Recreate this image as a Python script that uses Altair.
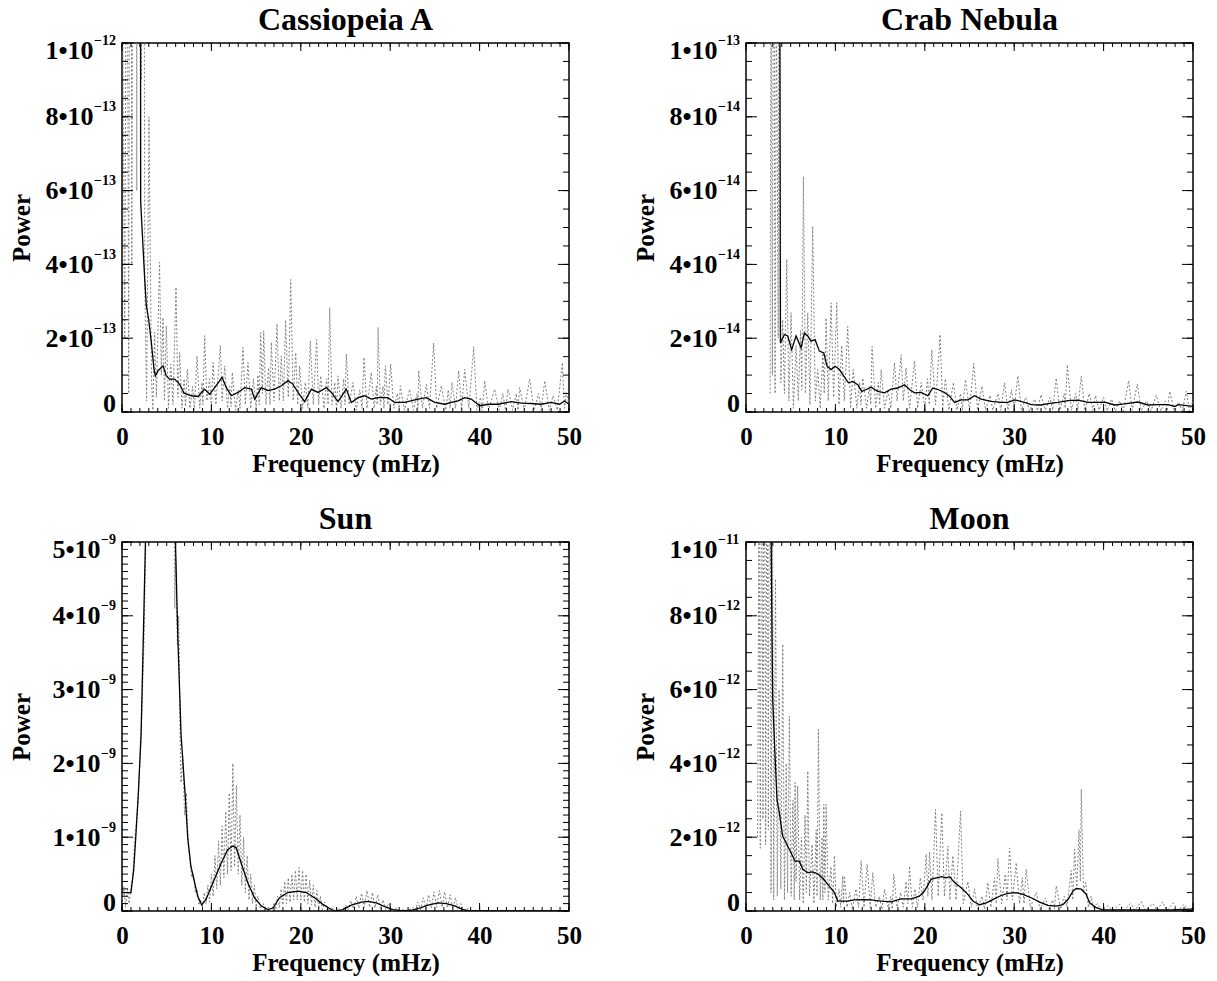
import altair as alt
import pandas as pd

FONT = "Liberation Serif"
W, H = 447, 369
X_MAJOR = [0, 10, 20, 30, 40, 50]
X_MINOR = list(range(0, 51))

# ---------------- data (frequency mHz, power in panel units) ----------------
# Cassiopeia A, units of 1e-13
cas_raw = [(0.0, 14), (0.3, 2.0), (0.55, 18), (0.75, 0.5), (0.93, 30), (1.1, 4), (1.3, 25), (1.49, 30),
           (1.65, 6), (1.8, 22), (1.98, 40), (2.15, 9), (2.35, 30), (2.55, 3.5), (2.75, 0.3), (3.02, 8.0),
           (3.3, 0.9), (3.45, 0.05), (3.65, 2.16), (3.85, 0.4), (4.2, 4.06), (4.4, 1.0), (4.59, 2.56),
           (4.75, 0.3), (4.96, 2.34), (5.2, 0.1), (5.45, 1.3), (5.7, 0.2), (6.04, 3.38), (6.25, 0.4),
           (6.45, 1.61), (6.7, 0.1), (6.95, 0.9), (7.1, 0.15), (7.31, 1.16), (7.6, 0.1), (7.9, 0.7),
           (8.1, 0.05), (8.39, 1.52), (8.7, 0.1), (8.95, 0.8), (9.05, 0.2), (9.24, 2.07), (9.5, 0.3),
           (9.8, 0.9), (10.0, 0.1), (10.18, 1.34), (10.5, 0.2), (11.0, 1.80), (11.2, 0.3), (11.49, 1.25),
           (11.8, 0.1), (12.05, 0.7), (12.2, 0.15), (12.34, 1.07), (12.7, 0.05), (13.0, 0.6), (13.2, 0.1),
           (13.53, 1.75), (13.8, 0.2), (14.09, 1.34), (14.4, 0.1), (14.7, 0.9), (15.0, 0.1), (15.2, 1.0),
           (15.35, 0.2), (15.51, 2.15), (15.7, 0.5), (15.85, 2.20), (16.1, 0.2), (16.4, 1.2), (16.55, 0.2),
           (16.7, 1.89), (17.0, 0.3), (17.34, 2.39), (17.6, 0.3), (17.82, 1.52), (18.05, 0.3), (18.3, 2.49),
           (18.6, 0.4), (18.87, 3.59), (19.15, 0.3), (19.43, 1.61), (19.65, 0.2), (19.87, 1.25), (20.2, 0.1),
           (20.5, 0.8), (20.8, 0.1), (21.06, 1.93), (21.4, 0.2), (21.77, 1.96), (22.0, 0.2), (22.22, 0.98),
           (22.6, 0.1), (22.9, 0.9), (23.05, 0.2), (23.23, 2.83), (23.5, 0.2), (23.8, 0.8), (24.0, 0.05),
           (24.16, 0.98), (24.5, 0.1), (24.8, 0.9), (24.95, 0.2), (25.09, 1.57), (25.4, 0.2), (25.84, 0.80),
           (26.2, 0.05), (26.6, 0.6), (26.85, 0.1), (27.07, 1.48), (27.4, 0.1), (27.89, 1.07), (28.2, 0.1),
           (28.45, 0.7), (28.55, 0.2), (28.64, 2.29), (28.9, 0.2), (29.2, 0.7), (29.3, 0.1), (29.46, 1.25),
           (29.75, 0.2), (30.05, 1.30), (30.4, 0.1), (30.8, 0.5), (31.0, 0.1), (31.13, 0.71), (31.6, 0.05),
           (32.18, 0.62), (32.6, 0.05), (33.0, 0.5), (33.1, 0.1), (33.19, 1.12), (33.6, 0.1), (34.04, 0.75),
           (34.4, 0.1), (34.86, 1.87), (35.2, 0.1), (35.72, 0.71), (36.2, 0.05), (36.5, 0.6), (36.7, 0.1),
           (36.91, 0.80), (37.3, 0.1), (37.66, 1.12), (38.0, 0.1), (38.33, 1.16), (38.8, 0.1), (39.34, 1.77),
           (39.7, 0.05), (40.1, 0.4), (40.3, 0.02), (40.57, 0.85), (41.0, 0.05), (41.69, 0.62), (42.2, 0.05),
           (42.6, 0.5), (42.9, 0.05), (43.18, 0.62), (43.7, 0.05), (44.1, 0.5), (44.3, 0.05), (44.48, 0.66),
           (45.0, 0.05), (45.6, 0.89), (46.1, 0.05), (46.6, 0.5), (46.9, 0.05), (47.28, 0.85), (47.8, 0.05),
           (48.21, 0.44), (48.7, 0.05), (49.25, 1.34), (49.5, 0.1), (49.7, 0.53), (50.0, 0.2)]
cas_smooth = [(1.98, 40), (2.09, 5.69), (2.54, 3.60), (2.72, 2.88), (2.98, 2.52), (3.28, 1.89), (3.58, 1.16),
              (3.73, 0.98), (4.03, 1.12), (4.59, 1.25), (4.96, 0.98), (5.33, 0.89), (5.89, 0.89), (6.45, 0.75),
              (6.94, 0.51), (7.75, 0.44), (8.50, 0.42), (9.24, 0.62), (9.80, 0.48), (10.37, 0.66), (11.19, 0.94),
              (11.67, 0.66), (12.23, 0.44), (12.98, 0.53), (13.72, 0.66), (14.47, 0.62), (14.84, 0.35),
              (15.58, 0.66), (16.33, 0.58), (17.08, 0.62), (17.82, 0.71), (18.57, 0.85), (19.13, 0.75),
              (19.69, 0.53), (20.43, 0.28), (21.18, 0.62), (21.92, 0.53), (22.86, 0.66), (23.42, 0.53),
              (24.16, 0.28), (25.09, 0.62), (25.65, 0.26), (26.40, 0.39), (27.14, 0.44), (27.89, 0.35),
              (28.64, 0.39), (29.75, 0.39), (30.50, 0.26), (31.62, 0.26), (33.11, 0.35), (34.04, 0.39),
              (34.98, 0.26), (36.10, 0.21), (36.84, 0.26), (37.58, 0.30), (38.33, 0.39), (39.07, 0.35),
              (40.00, 0.17), (40.94, 0.21), (42.06, 0.21), (43.55, 0.28), (44.67, 0.24), (45.78, 0.23),
              (46.9, 0.21), (48.0, 0.26), (48.96, 0.21), (49.5, 0.30), (50.0, 0.21)]

# Crab Nebula, units of 1e-14
crab_raw = [(2.7, 0.5), (2.8, 14), (2.95, 1.0), (3.1, 18), (3.25, 0.5), (3.4, 12), (3.6, 2), (3.73, 20),
            (3.9, 0.8), (4.1, 2.5), (4.3, 0.5), (4.56, 4.14), (4.8, 0.3), (5.04, 2.69), (5.3, 0.1), (5.6, 1.8),
            (5.85, 0.3), (6.1, 2.2), (6.25, 0.6), (6.42, 6.38), (6.65, 0.5), (6.91, 2.69), (7.15, 0.2),
            (7.46, 5.04), (7.75, 0.3), (8.02, 1.15), (8.3, 0.1), (8.6, 1.6), (8.75, 0.5), (8.96, 2.55),
            (9.2, 0.3), (9.52, 2.96), (9.8, 0.4), (10.15, 2.96), (10.4, 0.2), (10.7, 1.8), (11.0, 0.3),
            (11.38, 2.32), (11.7, 0.1), (12.0, 1.15), (12.4, 0.1), (12.7, 0.8), (12.85, 0.2), (13.06, 0.92),
            (13.5, 0.1), (13.8, 0.7), (13.95, 0.2), (14.10, 1.78), (14.5, 0.1), (14.8, 0.8), (14.95, 0.2),
            (15.11, 1.15), (15.5, 0.1), (15.9, 0.6), (16.2, 0.1), (16.61, 1.33), (16.9, 0.3), (17.35, 1.55),
            (17.6, 0.3), (17.9, 1.2), (18.3, 0.1), (18.85, 1.38), (19.2, 0.1), (19.6, 0.8), (20.0, 0.1),
            (20.3, 0.9), (20.5, 0.2), (20.78, 1.69), (21.2, 0.2), (21.71, 2.1), (22.0, 0.1), (22.3, 0.9),
            (22.7, 0.05), (23.2, 0.8), (23.6, 0.05), (24.0, 0.5), (24.2, 0.05), (24.55, 0.88), (25.0, 0.05),
            (25.48, 1.31), (25.9, 0.05), (26.4, 0.7), (26.8, 0.05), (27.3, 0.45), (27.6, 0.05), (28.2, 0.5),
            (28.5, 0.05), (28.92, 0.79), (29.3, 0.05), (29.7, 0.6), (30.0, 0.1), (30.41, 0.98), (30.8, 0.05),
            (31.3, 0.4), (31.7, 0.03), (32.3, 0.35), (32.6, 0.03), (33.0, 0.47), (33.5, 0.05), (34.0, 0.4),
            (34.3, 0.05), (34.7, 0.92), (35.1, 0.05), (35.6, 0.5), (35.7, 0.1), (35.94, 1.28), (36.4, 0.05),
            (36.9, 0.5), (37.1, 0.05), (37.5, 0.97), (37.9, 0.05), (38.4, 0.5), (38.8, 0.05), (39.1, 0.45),
            (39.5, 0.05), (40.0, 0.4), (40.4, 0.03), (40.9, 0.35), (41.3, 0.03), (41.8, 0.3), (42.2, 0.03),
            (42.8, 0.85), (43.2, 0.05), (43.77, 0.76), (44.2, 0.03), (44.8, 0.3), (45.3, 0.03), (45.9, 0.45),
            (46.4, 0.03), (46.9, 0.3), (47.1, 0.03), (47.4, 0.56), (47.9, 0.03), (48.4, 0.25), (48.8, 0.03),
            (49.25, 0.56), (49.6, 0.03), (50.0, 0.3)]
crab_smooth = [(3.64, 30), (3.85, 1.87), (4.29, 2.10), (4.67, 2.06), (5.11, 1.69), (5.60, 2.06), (6.16, 1.74),
               (6.53, 2.14), (6.91, 2.06), (7.28, 1.92), (7.73, 1.96), (8.21, 1.65), (8.70, 1.60), (9.07, 1.24),
               (9.52, 1.15), (9.97, 1.24), (10.45, 1.15), (10.94, 0.97), (11.46, 0.79), (11.94, 0.83),
               (12.50, 0.74), (12.95, 0.56), (13.44, 0.61), (13.99, 0.67), (14.74, 0.56), (15.49, 0.52),
               (16.23, 0.62), (16.98, 0.65), (17.73, 0.74), (18.29, 0.61), (18.85, 0.52), (19.59, 0.53),
               (20.34, 0.44), (20.90, 0.65), (21.46, 0.61), (22.21, 0.53), (22.77, 0.43), (23.33, 0.26),
               (24.07, 0.33), (24.82, 0.33), (25.56, 0.44), (26.30, 0.35), (27.42, 0.29), (28.54, 0.26),
               (29.29, 0.26), (30.04, 0.33), (31.16, 0.26), (31.90, 0.20), (33.02, 0.19), (34.14, 0.24),
               (34.89, 0.26), (36.01, 0.31), (37.13, 0.32), (38.25, 0.26), (39.37, 0.26), (40.12, 0.27),
               (41.24, 0.19), (42.36, 0.22), (43.84, 0.27), (44.96, 0.19), (46.08, 0.20), (47.20, 0.20),
               (47.95, 0.15), (48.32, 0.20), (49.07, 0.18), (50.0, 0.15)]

# Sun, units of 1e-9
sun_raw = [(0.0, 0.1), (0.2, 0.33), (0.4, 0.05), (0.6, 0.3), (0.8, 0.1), (1.0, 0.3), (1.2, 0.45), (1.4, 0.9),
           (1.6, 1.2), (1.8, 1.5), (2.0, 2.0), (2.2, 2.6), (2.45, 3.6), (2.7, 5.2), (3.2, 8), (4.3, 11),
           (5.4, 8), (5.85, 5.2), (5.9, 4.1), (6.0, 4.8), (6.2, 3.6), (6.35, 4.0), (6.5, 2.4), (6.6, 1.74),
           (6.8, 2.1), (7.0, 1.3), (7.2, 1.6), (7.4, 0.9), (7.6, 0.7), (7.8, 0.45), (8.0, 0.5), (8.2, 0.25),
           (8.4, 0.3), (8.6, 0.08), (8.8, 0.15), (9.0, 0.05), (9.2, 0.25), (9.4, 0.1), (9.6, 0.35), (9.8, 0.12),
           (10.0, 0.5), (10.2, 0.2), (10.4, 0.75), (10.6, 0.3), (10.8, 0.95), (11.0, 0.35), (11.2, 1.15),
           (11.4, 0.45), (11.6, 1.35), (11.8, 0.5), (12.0, 1.6), (12.2, 0.55), (12.4, 2.0), (12.6, 0.6),
           (12.8, 1.7), (13.0, 0.5), (13.2, 1.3), (13.4, 0.35), (13.6, 1.0), (13.8, 0.25), (14.0, 0.75),
           (14.2, 0.15), (14.4, 0.5), (14.6, 0.1), (14.8, 0.35), (15.0, 0.05), (15.2, 0.2), (15.5, 0.03),
           (15.8, 0.1), (16.1, 0.0), (16.4, 0.05), (16.7, 0.0), (17.0, 0.1), (17.2, 0.02), (17.4, 0.2),
           (17.6, 0.05), (17.8, 0.3), (18.0, 0.08), (18.2, 0.4), (18.4, 0.1), (18.6, 0.45), (18.8, 0.12),
           (19.0, 0.5), (19.2, 0.15), (19.4, 0.55), (19.6, 0.15), (19.8, 0.59), (20.0, 0.15), (20.2, 0.55),
           (20.4, 0.12), (20.6, 0.5), (20.8, 0.1), (21.0, 0.42), (21.2, 0.08), (21.4, 0.35), (21.6, 0.05),
           (21.8, 0.28), (22.0, 0.03), (22.2, 0.2), (22.4, 0.02), (22.7, 0.12), (23.0, 0.0), (23.4, 0.05),
           (23.8, 0.0), (24.2, 0.03), (24.6, 0.0), (25.0, 0.08), (25.3, 0.02), (25.6, 0.14), (25.9, 0.03),
           (26.2, 0.2), (26.5, 0.04), (26.8, 0.24), (27.1, 0.05), (27.4, 0.28), (27.7, 0.05), (28.0, 0.25),
           (28.3, 0.04), (28.6, 0.22), (28.9, 0.03), (29.2, 0.15), (29.5, 0.02), (29.8, 0.1), (30.2, 0.0),
           (30.6, 0.04), (31.0, 0.0), (31.5, 0.02), (32.0, 0.0), (32.5, 0.05), (32.8, 0.01), (33.1, 0.12),
           (33.4, 0.02), (33.7, 0.18), (34.0, 0.03), (34.3, 0.22), (34.6, 0.04), (34.9, 0.26), (35.2, 0.05),
           (35.5, 0.28), (35.8, 0.05), (36.1, 0.26), (36.4, 0.04), (36.7, 0.22), (37.0, 0.03), (37.3, 0.18),
           (37.6, 0.02), (37.9, 0.1), (38.2, 0.01), (38.6, 0.04), (39.0, 0.0), (39.5, 0.01), (40.0, 0.0)]
sun_smooth = [(0.0, 0.25), (1.0, 0.25), (1.31, 0.56), (1.57, 1.06), (1.83, 1.60), (2.13, 2.38), (2.39, 3.73),
              (2.62, 5.0), (3.5, 9.0), (4.3, 10.5), (5.2, 9.0), (5.98, 5.0), (6.24, 3.73), (6.61, 2.38),
              (7.05, 1.6), (7.35, 1.0), (7.7, 0.61), (8.47, 0.20), (8.92, 0.08), (9.41, 0.16), (10.16, 0.38),
              (11.1, 0.65), (11.83, 0.83), (12.39, 0.88), (12.77, 0.86), (13.33, 0.65), (14.08, 0.38),
              (14.82, 0.18), (15.57, 0.07), (16.32, 0.02), (16.88, 0.04), (17.62, 0.18), (18.55, 0.25),
              (19.67, 0.27), (20.6, 0.25), (21.54, 0.18), (22.47, 0.09), (23.4, 0.02), (23.96, 0.0),
              (24.7, 0.02), (25.65, 0.08), (26.77, 0.12), (27.52, 0.13), (28.45, 0.11), (29.38, 0.06),
              (30.31, 0.02), (31.43, 0.0), (32.36, 0.01), (33.3, 0.04), (34.23, 0.08), (35.35, 0.11),
              (36.28, 0.10), (37.22, 0.07), (38.15, 0.02), (38.9, 0.0), (50.0, 0.0)]

# Moon, units of 1e-12
moon_raw = [(1.3, 2.0), (1.45, 12), (1.6, 1.7), (1.75, 14), (1.9, 2.5), (2.05, 16), (2.2, 1.8), (2.35, 15),
            (2.5, 2.2), (2.65, 18), (2.8, 0.5), (2.95, 12), (3.1, 0.3), (3.3, 9), (3.5, 0.4), (3.7, 6.0),
            (3.9, 0.6), (4.11, 7.23), (4.3, 0.3), (4.5, 4.0), (4.65, 0.5), (4.85, 5.28), (5.05, 0.4),
            (5.25, 3.0), (5.4, 0.3), (5.49, 3.48), (5.6, 0.8), (5.78, 3.39), (6.0, 0.3), (6.2, 2.0), (6.4, 0.2),
            (6.6, 2.6), (6.75, 0.5), (6.91, 3.79), (7.1, 0.4), (7.4, 1.8), (7.6, 0.2), (7.85, 2.2), (7.95, 0.4),
            (8.10, 4.92), (8.3, 0.3), (8.5, 2.0), (8.6, 0.3), (8.70, 2.89), (8.83, 0.5), (8.96, 2.89),
            (9.2, 0.3), (9.5, 1.2), (9.7, 0.2), (9.89, 1.5), (10.1, 0.1), (10.4, 0.6), (10.6, 0.1),
            (10.82, 0.95), (10.9, 0.2), (11.01, 0.95), (11.3, 0.1), (11.6, 0.5), (11.9, 0.05), (12.3, 0.6),
            (12.6, 0.1), (12.88, 1.36), (13.2, 0.1), (13.55, 1.27), (13.9, 0.1), (14.18, 1.04), (14.5, 0.1),
            (14.9, 0.4), (15.2, 0.05), (15.49, 0.59), (15.9, 0.1), (16.2, 0.4), (16.35, 0.05), (16.53, 1.0),
            (16.9, 0.1), (17.3, 0.5), (17.6, 0.1), (17.9, 0.8), (18.1, 0.2), (18.29, 1.22), (18.6, 0.1),
            (18.9, 0.6), (19.2, 0.1), (19.5, 0.9), (19.8, 0.3), (20.15, 1.54), (20.35, 0.4), (20.53, 1.6),
            (20.8, 0.3), (21.2, 2.75), (21.5, 0.4), (21.9, 2.66), (22.2, 0.4), (22.58, 1.76), (22.8, 0.3),
            (23.14, 1.5), (23.5, 0.3), (24.0, 2.71), (24.3, 0.2), (24.82, 0.8), (25.2, 0.1), (25.56, 0.6),
            (25.9, 0.05), (26.4, 0.4), (26.7, 0.05), (27.05, 0.77), (27.4, 0.1), (27.8, 0.9), (28.0, 0.2),
            (28.17, 1.42), (28.6, 0.2), (29.0, 1.0), (29.2, 0.3), (29.48, 1.71), (29.8, 0.3), (30.22, 1.31),
            (30.6, 0.2), (30.9, 0.9), (31.1, 0.2), (31.34, 1.13), (31.8, 0.1), (32.46, 0.5), (32.9, 0.05),
            (33.5, 0.35), (33.9, 0.05), (34.3, 0.3), (34.5, 0.05), (34.7, 0.68), (35.2, 0.05), (35.6, 0.4),
            (35.9, 0.1), (36.38, 1.1), (36.55, 0.3), (36.75, 1.67), (37.0, 0.6), (37.25, 2.2), (37.4, 0.8),
            (37.5, 3.30), (37.75, 0.5), (38.0, 0.77), (38.3, 0.1), (38.6, 0.4), (38.9, 0.05), (39.3, 0.2),
            (39.8, 0.02), (40.5, 0.15), (41.0, 0.02), (41.8, 0.18), (42.3, 0.02), (43.0, 0.2), (43.5, 0.02),
            (44.2, 0.25), (44.7, 0.02), (45.5, 0.2), (46.0, 0.02), (46.6, 0.25), (47.1, 0.02), (47.8, 0.22),
            (48.3, 0.02), (49.0, 0.18), (49.5, 0.02), (50.0, 0.1)]
moon_smooth = [(2.7, 20), (2.80, 10.5), (2.91, 7.5), (2.99, 5.73), (3.25, 4.2), (3.47, 3.02), (3.73, 2.66),
               (4.10, 2.03), (4.48, 1.85), (5.04, 1.58), (5.49, 1.35), (5.97, 1.35), (6.35, 1.13), (6.91, 1.04),
               (7.46, 1.06), (8.02, 1.01), (8.70, 0.86), (9.14, 0.72), (9.89, 0.50), (10.26, 0.27), (11.38, 0.27),
               (12.13, 0.30), (13.25, 0.31), (13.99, 0.30), (15.11, 0.27), (16.23, 0.25), (17.35, 0.33),
               (18.47, 0.33), (19.40, 0.40), (19.96, 0.54), (20.71, 0.86), (21.27, 0.90), (21.90, 0.93),
               (22.39, 0.90), (22.77, 0.93), (23.33, 0.77), (24.07, 0.63), (24.82, 0.45), (25.38, 0.27),
               (26.12, 0.17), (26.87, 0.22), (27.61, 0.31), (28.54, 0.42), (29.29, 0.48), (30.22, 0.50),
               (30.97, 0.45), (31.90, 0.36), (32.84, 0.24), (33.77, 0.15), (34.70, 0.13), (35.45, 0.17),
               (36.01, 0.31), (36.57, 0.54), (36.94, 0.61), (37.50, 0.59), (38.06, 0.45), (38.43, 0.22),
               (39.18, 0.09), (39.93, 0.03), (43.84, 0.03), (47.57, 0.03), (50.0, 0.05)]

# y ticks (panel units)
Y_MAJOR_10 = [0, 2, 4, 6, 8, 10]
Y_MINOR_10 = [k * 0.5 for k in range(21)]
Y_MAJOR_5 = [0, 1, 2, 3, 4, 5]
Y_MINOR_5 = [k * 0.1 for k in range(51)]

MAIN_FS = 26
SUP_FS = 14


def make_panel(title, raw, smooth, unit_exp, top, y_major, y_minor):
    unit = 10.0 ** unit_exp
    xs = alt.Scale(domain=[0, 50], nice=False, zero=False)
    ys = alt.Scale(domain=[0, top * unit], nice=False, zero=False)

    xaxis = alt.Axis(values=X_MAJOR, ticks=False, domain=False, grid=False, labelFlush=False,
                     labelFont=FONT, labelFontSize=25, labelFontWeight="bold", labelColor="black",
                     labelPadding=12, labelOverlap=False, titleFont=FONT, titleFontSize=25,
                     titleFontWeight="bold", titleColor="black", titlePadding=2)
    yaxis = alt.Axis(values=[k * unit for k in y_major], labels=False, ticks=False, domain=False,
                     grid=False, minExtent=84, maxExtent=84,
                     titleFont=FONT, titleFontSize=25, titleFontWeight="bold", titleColor="black",
                     titlePadding=4)
    XE = alt.X("f:Q", scale=xs, axis=xaxis, title="Frequency (mHz)")
    YE = alt.Y("v:Q", scale=ys, axis=yaxis, title="Power")

    raw_df = pd.DataFrame(raw, columns=["f", "p"])
    raw_df["v"] = raw_df["p"] * unit
    sm_df = pd.DataFrame(smooth, columns=["f", "p"])
    sm_df["v"] = sm_df["p"] * unit

    raw_line = alt.Chart(raw_df).mark_line(color="#808080", strokeWidth=1, strokeDash=[2, 2],
                                           clip=True).encode(x=XE, y=YE)
    sm_line = alt.Chart(sm_df).mark_line(color="black", strokeWidth=1.3, clip=True).encode(x=XE, y=YE)

    layers = [raw_line, sm_line]

    def xt(vals, length):
        d = pd.DataFrame({"f": vals})
        b = alt.Chart(d).mark_rule(color="black", strokeWidth=1)
        return [b.encode(x=XE, y=alt.value(H), y2=alt.value(H - length)),
                b.encode(x=XE, y=alt.value(0), y2=alt.value(length))]

    def yt(vals, length):
        d = pd.DataFrame({"v": [k * unit for k in vals]})
        b = alt.Chart(d).mark_rule(color="black", strokeWidth=1)
        return [b.encode(y=YE, x=alt.value(0), x2=alt.value(length)),
                b.encode(y=YE, x=alt.value(W - length), x2=alt.value(W))]

    layers += xt(X_MINOR, 4) + xt(X_MAJOR, 8) + yt(y_minor, 6) + yt(y_major, 11)

    # y tick labels: mantissa "k•10" plus superscript exponent, as text
    mid = [k for k in y_major if 0 < k < top]
    mid_df = pd.DataFrame({"v": [k * unit for k in mid],
                           "t": [f"{k}•10" for k in mid],
                           "s": [f"−{-unit_exp}" for k in mid]})
    if top == 10:
        top_txt, top_sup = "1•10", f"−{-(unit_exp + 1)}"
    else:
        top_txt, top_sup = f"{top}•10", f"−{-unit_exp}"
    top_df = pd.DataFrame({"v": [top * unit], "t": [top_txt], "s": [top_sup]})
    zero_df = pd.DataFrame({"v": [0.0], "t": ["0"]})

    sup_w = 0.564 * SUP_FS + 0.5 * SUP_FS * len(str(-unit_exp))
    main_x = -(6 + sup_w + 0.5)

    def txt(df, field, x, size, dy, align):
        return alt.Chart(df).mark_text(font=FONT, fontSize=size, fontWeight="bold", color="black",
                                       align=align, baseline="alphabetic", dy=dy).encode(
            y=YE, x=alt.value(x), text=f"{field}:N")

    layers += [
        txt(mid_df, "t", main_x, MAIN_FS, 8.5, "right"),
        txt(mid_df, "s", main_x + 0.5, SUP_FS, -5.5, "left"),
        txt(top_df, "t", main_x, MAIN_FS, 15.5, "right"),
        txt(top_df, "s", main_x + 0.5, SUP_FS, 1.5, "left"),
        txt(zero_df, "t", -6, MAIN_FS, 0, "right"),
    ]

    return alt.layer(*layers).properties(
        width=W, height=H,
        title=alt.Title(title, font=FONT, fontSize=32, fontWeight="bold", color="black",
                        offset=-3, frame="group", anchor="middle"),
    )


p1 = make_panel("Cassiopeia A", cas_raw, cas_smooth, -13, 10, Y_MAJOR_10, Y_MINOR_10)
p2 = make_panel("Crab Nebula", crab_raw, crab_smooth, -14, 10, Y_MAJOR_10, Y_MINOR_10)
p3 = make_panel("Sun", sun_raw, sun_smooth, -9, 5, Y_MAJOR_5, Y_MINOR_5)
p4 = make_panel("Moon", moon_raw, moon_smooth, -12, 10, Y_MAJOR_10, Y_MINOR_10)

chart = alt.concat(p1, p2, p3, p4, columns=2, spacing={"row": 130, "column": 177},
                   bounds="flush").properties(
    padding={"left": 8, "top": 2, "right": 0, "bottom": 0}, background="white"
).configure_view(stroke="black", strokeWidth=1.5)

chart.save("out.html", embed_options={"renderer": "svg", "actions": False})
